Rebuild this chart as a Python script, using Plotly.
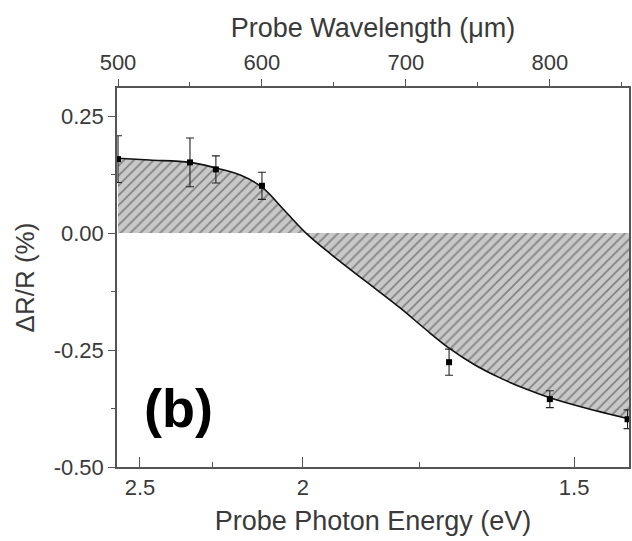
import plotly.graph_objects as go

# Measured data points (probe wavelength in nm, dR/R in %)
wavelength_nm = [500, 550, 568, 600, 730, 800, 854]
dr_over_r = [0.158, 0.151, 0.136, 0.101, -0.276, -0.355, -0.398]
dr_err = [0.050, 0.052, 0.029, 0.029, 0.028, 0.018, 0.020]

# Fitted curve
curve_nm = [500, 522, 550, 568, 585, 600, 616, 630.6, 647, 661, 678.5, 696, 713, 730,
            748, 765, 783, 800, 826, 855]
curve_val = [0.160, 0.156, 0.151, 0.139, 0.124, 0.098, 0.047, 0.0, -0.043, -0.077, -0.118,
             -0.160, -0.204, -0.246, -0.282, -0.309, -0.333, -0.352, -0.375, -0.397]

# Axis ticks
energy_ticks = [2.5, 2, 1.5]
energy_minor = [2.25, 1.75]
energy_labels = ["2.5", "2", "1.5"]
wl_ticks = [500, 600, 700, 800]
y_ticks = [0.25, 0.0, -0.25, -0.5]
y_labels = ["0.25", "0.00", "-0.25", "-0.50"]

FONT = "Liberation Sans, Arial, sans-serif"
AXC = "#555555"
TXT = "#3a3a3a"

# bottom axis: energy labels placed on a wavelength-linear scale
bottom_vals = [1240.0 / e for e in energy_ticks]
bottom_minor = [1240.0 / e for e in energy_minor]

fig = go.Figure()

# invisible helper trace so the bottom (energy) axis is drawn
fig.add_trace(go.Scatter(
    x=bottom_vals, y=[y_ticks[-1]] * len(bottom_vals), xaxis="x", yaxis="y",
    mode="markers", marker=dict(opacity=0), hoverinfo="skip", showlegend=False,
))

fig.add_trace(go.Scatter(
    x=curve_nm, y=curve_val, xaxis="x2", yaxis="y",
    mode="lines", line=dict(color="#111111", width=1.6, shape="spline", smoothing=1.0),
    fill="tozeroy", fillcolor="#c8c8c8",
    fillpattern=dict(shape="/", bgcolor="#c8c8c8", fgcolor="#3c3c3c", size=7, solidity=0.24),
    hoverinfo="skip", showlegend=False,
))

fig.add_trace(go.Scatter(
    x=wavelength_nm, y=dr_over_r, xaxis="x2", yaxis="y",
    mode="markers", marker=dict(symbol="square", size=6, color="#000000"),
    error_y=dict(type="data", array=dr_err, color="#222222", thickness=1.1, width=4),
    cliponaxis=False, showlegend=False,
))

fig.update_layout(
    width=632, height=541,
    margin=dict(l=117, r=3, t=88, b=74),
    paper_bgcolor="white", plot_bgcolor="white",
    font=dict(family=FONT, color=TXT, size=18),
    xaxis=dict(
        range=[478.5, 868.5], showgrid=False, zeroline=False, automargin=False,
        tickmode="array", tickvals=bottom_vals, ticktext=energy_labels,
        ticks="inside", ticklen=10, tickwidth=1.2, tickcolor=AXC,
        minor=dict(tickmode="array", tickvals=bottom_minor, ticks="inside", ticklen=5, tickcolor=AXC, tickwidth=1.2),
        showline=True, linecolor=AXC, linewidth=1.5,
        tickfont=dict(size=22, color=TXT),
        title=dict(text="Probe Photon Energy (eV)", font=dict(size=27, color=TXT), standoff=12),
    ),
    xaxis2=dict(
        overlaying="x", side="top", anchor="y",
        range=[499.3, 855.0], showgrid=False, zeroline=False, automargin=False,
        tickmode="array", tickvals=wl_ticks,
        ticks="outside", ticklen=7, tickwidth=1.2, tickcolor=AXC,
        minor=dict(dtick=50, tick0=0, ticks="outside", ticklen=4, tickcolor=AXC, tickwidth=1.2),
        showline=True, linecolor=AXC, linewidth=1.5,
        tickfont=dict(size=22, color=TXT),
        title=dict(text="Probe Wavelength (\u03bcm)", font=dict(size=27, color=TXT), standoff=5),
    ),
    yaxis=dict(
        range=[-0.5, 0.31], showgrid=False, zeroline=False, automargin=False,
        tickmode="array", tickvals=y_ticks, ticktext=y_labels,
        ticks="outside", ticklen=7, tickwidth=1.2, tickcolor=AXC,
        minor=dict(tickmode="array", tickvals=[0.125, -0.125, -0.375], ticks="outside", ticklen=4, tickcolor=AXC, tickwidth=1.2),
        showline=True, linecolor=AXC, linewidth=1.5, mirror=True,
        tickfont=dict(size=22, color=TXT),
        title=dict(text="\u0394R/R (%)", font=dict(size=26, color=TXT), standoff=12),
    ),
    annotations=[dict(
        text="<b>(b)</b>", xref="paper", yref="paper",
        x=(178 - 117) / 512, y=(467 - 408) / 379, xanchor="center", yanchor="middle",
        showarrow=False, font=dict(family=FONT, size=54, color="#000000"),
    )],
)

# remove the default 8px body margin so the figure fills the window exactly
fig.write_html(
    "out.html",
    config={"displayModeBar": False},
    post_script="document.body.style.margin='0';document.body.style.overflow='hidden';",
)
